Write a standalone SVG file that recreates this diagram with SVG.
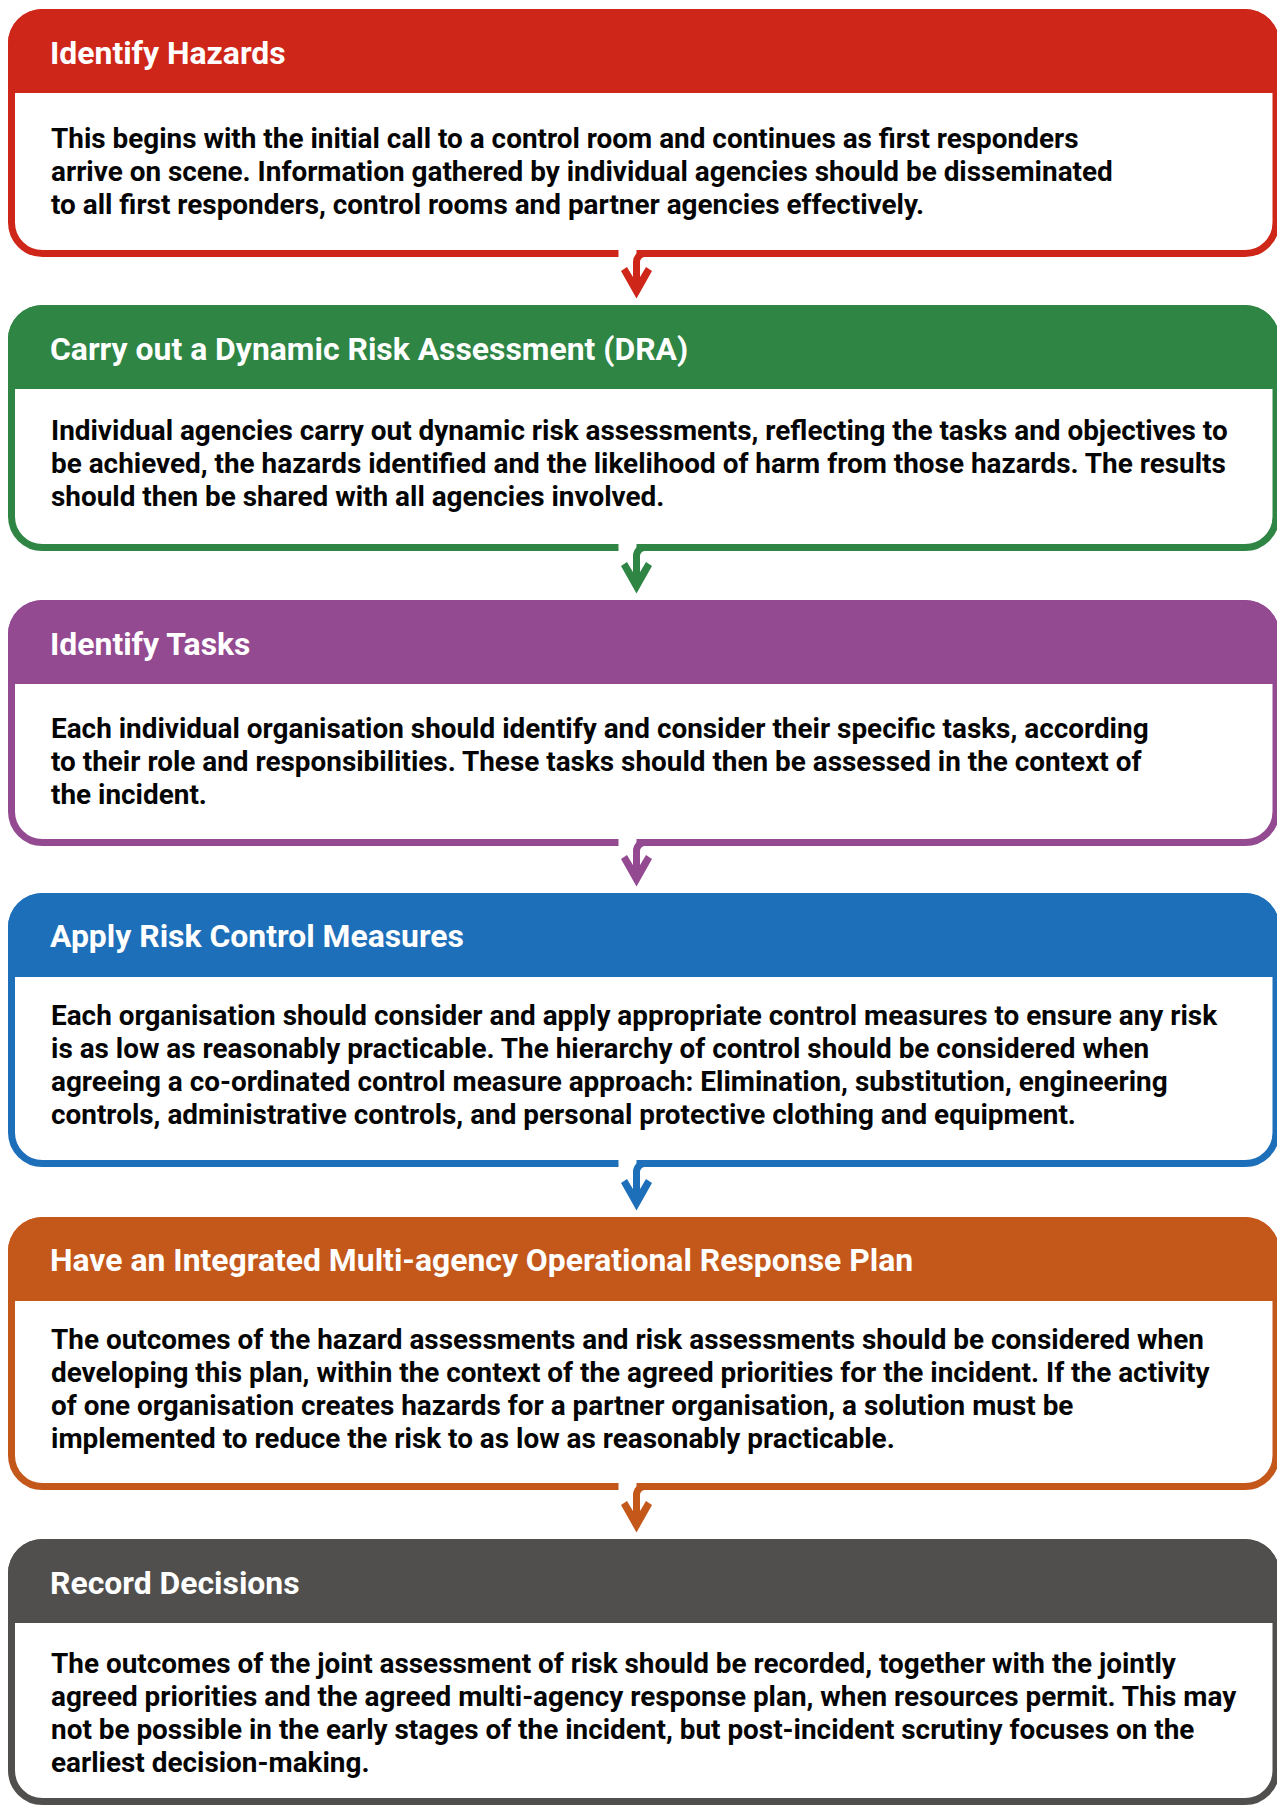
<svg xmlns="http://www.w3.org/2000/svg" width="1277" height="1807" viewBox="0 0 1277 1807">
<style>
.box{fill:#fff;stroke-width:7}
.title{font-family:Roboto,"Liberation Sans",sans-serif;font-weight:700;font-size:31.9px;fill:#fff}
.body{font-family:Roboto,"Liberation Sans",sans-serif;font-weight:700;font-size:27.9px;fill:#050505}
.gap{fill:#fff}
.shaft{fill:none;stroke-width:7}
</style>
<rect width="1277" height="1807" fill="#fff"/>
<g id="node1">
<rect class="box" x="11.5" y="12.5" width="1264.5" height="241" rx="31" stroke="#CF261A"/>
<path d="M8,93 V43.5 A34.5,34.5 0 0 1 42.5,9 H1245 A34.5,34.5 0 0 1 1279.5,43.5 V93 Z" fill="#CF261A"/>
<text class="title" x="50" y="63.5">Identify Hazards</text>
<text class="body" x="51" y="148">This begins with the initial call to a control room and continues as first responders</text>
<text class="body" x="51" y="181">arrive on scene. Information gathered by individual agencies should be disseminated</text>
<text class="body" x="51" y="214">to all first responders, control rooms and partner agencies effectively.</text>
</g>
<g id="node2">
<rect class="box" x="11.5" y="308.5" width="1264.5" height="239" rx="31" stroke="#2E8544"/>
<path d="M8,389 V339.5 A34.5,34.5 0 0 1 42.5,305 H1245 A34.5,34.5 0 0 1 1279.5,339.5 V389 Z" fill="#2E8544"/>
<text class="title" x="50" y="360">Carry out a Dynamic Risk Assessment (DRA)</text>
<text class="body" x="51" y="440">Individual agencies carry out dynamic risk assessments, reflecting the tasks and objectives to</text>
<text class="body" x="51" y="473">be achieved, the hazards identified and the likelihood of harm from those hazards. The results</text>
<text class="body" x="51" y="506">should then be shared with all agencies involved.</text>
</g>
<g id="node3">
<rect class="box" x="11.5" y="603.5" width="1264.5" height="239" rx="31" stroke="#944A91"/>
<path d="M8,684 V634.5 A34.5,34.5 0 0 1 42.5,600 H1245 A34.5,34.5 0 0 1 1279.5,634.5 V684 Z" fill="#944A91"/>
<text class="title" x="50" y="654.5">Identify Tasks</text>
<text class="body" x="51" y="738">Each individual organisation should identify and consider their specific tasks, according</text>
<text class="body" x="51" y="771">to their role and responsibilities. These tasks should then be assessed in the context of</text>
<text class="body" x="51" y="804">the incident.</text>
</g>
<g id="node4">
<rect class="box" x="11.5" y="896.5" width="1264.5" height="267" rx="31" stroke="#1E6FB9"/>
<path d="M8,977 V927.5 A34.5,34.5 0 0 1 42.5,893 H1245 A34.5,34.5 0 0 1 1279.5,927.5 V977 Z" fill="#1E6FB9"/>
<text class="title" x="50" y="947">Apply Risk Control Measures</text>
<text class="body" x="51" y="1025">Each organisation should consider and apply appropriate control measures to ensure any risk</text>
<text class="body" x="51" y="1058">is as low as reasonably practicable. The hierarchy of control should be considered when</text>
<text class="body" x="51" y="1091">agreeing a co-ordinated control measure approach: Elimination, substitution, engineering</text>
<text class="body" x="51" y="1124">controls, administrative controls, and personal protective clothing and equipment.</text>
</g>
<g id="node5">
<rect class="box" x="11.5" y="1220.5" width="1264.5" height="266" rx="31" stroke="#C4571A"/>
<path d="M8,1301 V1251.5 A34.5,34.5 0 0 1 42.5,1217 H1245 A34.5,34.5 0 0 1 1279.5,1251.5 V1301 Z" fill="#C4571A"/>
<text class="title" x="50" y="1271">Have an Integrated Multi-agency Operational Response Plan</text>
<text class="body" x="51" y="1349">The outcomes of the hazard assessments and risk assessments should be considered when</text>
<text class="body" x="51" y="1382">developing this plan, within the context of the agreed priorities for the incident. If the activity</text>
<text class="body" x="51" y="1415">of one organisation creates hazards for a partner organisation, a solution must be</text>
<text class="body" x="51" y="1448">implemented to reduce the risk to as low as reasonably practicable.</text>
</g>
<g id="node6">
<rect class="box" x="11.5" y="1542.5" width="1264.5" height="259" rx="31" stroke="#504F4D"/>
<path d="M8,1623 V1573.5 A34.5,34.5 0 0 1 42.5,1539 H1245 A34.5,34.5 0 0 1 1279.5,1573.5 V1623 Z" fill="#504F4D"/>
<text class="title" x="50" y="1593.5">Record Decisions</text>
<text class="body" x="51" y="1673">The outcomes of the joint assessment of risk should be recorded, together with the jointly</text>
<text class="body" x="51" y="1706">agreed priorities and the agreed multi-agency response plan, when resources permit. This may</text>
<text class="body" x="51" y="1739">not be possible in the early stages of the incident, but post-incident scrutiny focuses on the</text>
<text class="body" x="51" y="1772">earliest decision-making.</text>
</g>
<g id="connectors">
<g id="c1">
<rect class="gap" x="618.5" y="249" width="18" height="9"/>
<path class="shaft" d="M660,253.5 H645 A8.5,8.5 0 0 0 636.5,262 V286" stroke="#CF261A"/>
<path d="M636.5,298.5 L621,271 L627,267 L636.5,283 L646,267 L652,271 Z" fill="#CF261A"/>
</g>
<g id="c2">
<rect class="gap" x="618.5" y="543" width="18" height="9"/>
<path class="shaft" d="M660,547.5 H645 A8.5,8.5 0 0 0 636.5,556 V581" stroke="#2E8544"/>
<path d="M636.5,593.5 L621,566 L627,562 L636.5,578 L646,562 L652,566 Z" fill="#2E8544"/>
</g>
<g id="c3">
<rect class="gap" x="618.5" y="838" width="18" height="9"/>
<path class="shaft" d="M660,842.5 H645 A8.5,8.5 0 0 0 636.5,851 V874" stroke="#944A91"/>
<path d="M636.5,886.5 L621,859 L627,855 L636.5,871 L646,855 L652,859 Z" fill="#944A91"/>
</g>
<g id="c4">
<rect class="gap" x="618.5" y="1159" width="18" height="9"/>
<path class="shaft" d="M660,1163.5 H645 A8.5,8.5 0 0 0 636.5,1172 V1198" stroke="#1E6FB9"/>
<path d="M636.5,1210.5 L621,1183 L627,1179 L636.5,1195 L646,1179 L652,1183 Z" fill="#1E6FB9"/>
</g>
<g id="c5">
<rect class="gap" x="618.5" y="1482" width="18" height="9"/>
<path class="shaft" d="M660,1486.5 H645 A8.5,8.5 0 0 0 636.5,1495 V1520" stroke="#C4571A"/>
<path d="M636.5,1532.5 L621,1505 L627,1501 L636.5,1517 L646,1501 L652,1505 Z" fill="#C4571A"/>
</g>
</g>
</svg>
